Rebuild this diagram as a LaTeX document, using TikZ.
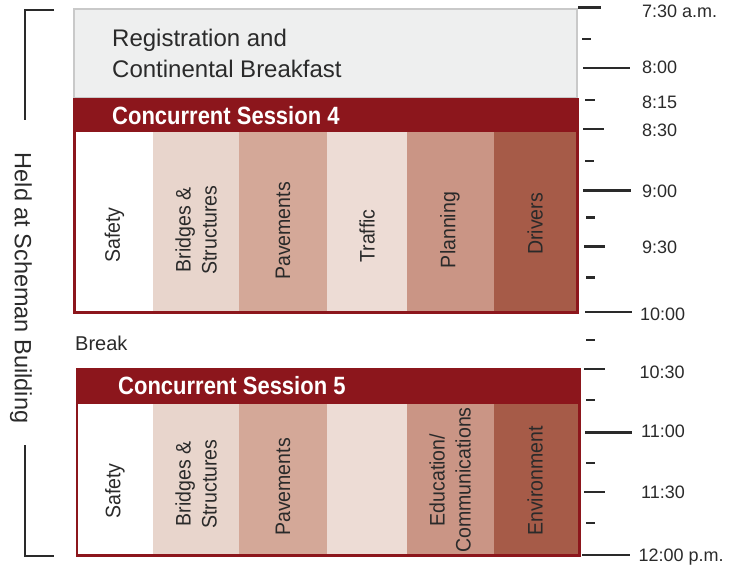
\documentclass[tikz,border=0pt]{standalone}
\usepackage{fontspec}
\setmainfont{Liberation Sans}
\newfontfamily\hdrfont[FakeStretch=0.88]{Liberation Sans}
\newfontfamily\colfont[FakeStretch=0.93]{Liberation Sans}
\definecolor{ink}{HTML}{2A2A2A}
\definecolor{hdr}{HTML}{8C161C}
\definecolor{gbox}{HTML}{EEEFEF}
\definecolor{gline}{HTML}{C9C9C9}
\definecolor{cbridge}{HTML}{E8D5CC}
\definecolor{cpave}{HTML}{D4A898}
\definecolor{ctraf}{HTML}{EDDCD5}
\definecolor{cplan}{HTML}{CA9585}
\definecolor{cdriv}{HTML}{A65B48}
\tikzset{
  collab/.style={rotate=90, font=\colfont\fontsize{21}{26}\selectfont, align=center, text=ink, inner sep=0pt},
  tlab/.style={anchor=base west, font=\fontsize{18}{20}\selectfont, text=ink, inner sep=0pt},
  hdrtext/.style={anchor=base west, font=\hdrfont\bfseries\fontsize{25}{28}\selectfont, text=white, inner sep=0pt},
  plain/.style={anchor=base west, text=ink, inner sep=0pt},
  tickline/.style={draw=ink, line width=2.6pt},
  bracket/.style={draw=ink, line width=2.6pt}
}
\begin{document}
\begin{tikzpicture}[x=1pt,y=-1pt]
\useasboundingbox (0,0) rectangle (743,565);

% registration box
\filldraw[fill=gbox, draw=gline, line width=2pt] (74,9) rectangle (577,98);
\node[plain, font=\fontsize{24}{31}\selectfont] (reg1) at (112,46) {Registration and};
\node[plain, font=\fontsize{24}{31}\selectfont] (reg2) at (112,77) {Continental Breakfast};

% session 4
\fill[hdr] (73,98) rectangle (579,314);
\fill[white]   (76,132) rectangle (153,311);
\fill[cbridge] (153,132) rectangle (239,311);
\fill[cpave]   (239,132) rectangle (327,311);
\fill[ctraf]   (327,132) rectangle (407,311);
\fill[cplan]   (407,132) rectangle (494,311);
\fill[cdriv]   (494,132) rectangle (576,311);
\node[hdrtext] (s4) at (112,124) {Concurrent Session 4};
\node[collab] (s4a) at (114.5,235) {Safety};
\node[collab] (s4b) at (196,230) {Bridges \&\\Structures};
\node[collab] (s4c) at (283,231) {Pavements};
\node[collab] (s4d) at (367,236) {Traffic};
\node[collab] (s4e) at (450,230) {Planning};
\node[collab] (s4f) at (535,224) {Drivers};

% break
\node[plain, font=\fontsize{20}{24}\selectfont] (brk) at (75,350) {Break};

% session 5
\fill[hdr] (75.5,368) rectangle (581,557);
\fill[white]   (78,404) rectangle (153,554);
\fill[cbridge] (153,404) rectangle (239,554);
\fill[cpave]   (239,404) rectangle (327,554);
\fill[ctraf]   (327,404) rectangle (407,554);
\fill[cplan]   (407,404) rectangle (494,554);
\fill[cdriv]   (494,404) rectangle (578,554);
\node[hdrtext] (s5) at (118,394) {Concurrent Session 5};
\node[collab] (s5a) at (115,491) {Safety};
\node[collab] (s5b) at (196,484) {Bridges \&\\Structures};
\node[collab] (s5c) at (283,487) {Pavements};
\node[collab] (s5e) at (450,480) {Education/\\Communications};
\node[collab] (s5f) at (535,481) {Environment};

% left bracket and label
\draw[bracket] (54,10) -- (25,10) -- (25,120);
\draw[bracket] (25,445) -- (25,556) -- (54,556);
\node[rotate=-90, font=\fontsize{23.5}{26}\selectfont, text=ink, inner sep=0pt] (held) at (21,288) {Held at Scheman Building};

% time ticks
\draw[tickline] (578,7.5) -- (601,7.5);
\draw[tickline] (582,39) -- (591,39);
\draw[tickline] (583,68) -- (630,68);
\draw[tickline] (585,100) -- (595,100);
\draw[tickline] (583,129) -- (604,129);
\draw[tickline] (585,161) -- (594,161);
\draw[tickline] (583,190.5) -- (631,190.5);
\draw[tickline] (586,217.5) -- (595,217.5);
\draw[tickline] (584,246.5) -- (605,246.5);
\draw[tickline] (586,277.5) -- (595,277.5);
\draw[tickline] (585,312) -- (632,312);
\draw[tickline] (586,340) -- (595,340);
\draw[tickline] (584,369) -- (605,369);
\draw[tickline] (586,400) -- (595,400);
\draw[tickline] (585,432.5) -- (632,432.5);
\draw[tickline] (586,463) -- (595,463);
\draw[tickline] (584,492) -- (605,492);
\draw[tickline] (586,523) -- (595,523);
\draw[tickline] (582,555) -- (630,555);

% time labels
\node[tlab] (t0730) at (642,17.4) {7:30 a.m.};
\node[tlab] (t0800) at (642,73.4) {8:00};
\node[tlab] (t0815) at (642,108) {8:15};
\node[tlab] (t0830) at (642,136.4) {8:30};
\node[tlab] (t0900) at (642,197.4) {9:00};
\node[tlab] (t0930) at (642,253) {9:30};
\node[tlab] (t1000) at (640,320) {10:00};
\node[tlab] (t1030) at (639.5,378.4) {10:30};
\node[tlab] (t1100) at (641,437.4) {11:00};
\node[tlab] (t1130) at (641,498.4) {11:30};
\node[tlab] (t1200) at (638.5,561.4) {12:00 p.m.};
\end{tikzpicture}
\end{document}
